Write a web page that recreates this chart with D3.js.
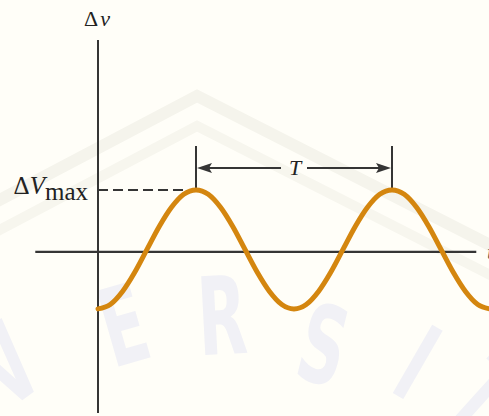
<!DOCTYPE html>
<html>
<head>
<meta charset="utf-8">
<script src="https://cdn.jsdelivr.net/npm/d3@7"></script>
<style>
  html, body { margin: 0; padding: 0; background: #fffef8; }
  svg { display: block; }
</style>
</head>
<body>
<svg id="chart" width="489" height="416"></svg>
<script>
// Time samples in units of the period T, and the voltage at each sample
// in units of ΔVmax (sixteenth-period readings of the oscillation).
const timeSamples = [0, 0.0625, 0.125, 0.1875, 0.25, 0.3125, 0.375, 0.4375, 0.5,
                     0.5625, 0.625, 0.6875, 0.75, 0.8125, 0.875, 0.9375, 1,
                     1.0625, 1.125, 1.1875, 1.25, 1.3125, 1.375, 1.4375, 1.5,
                     1.5625, 1.625, 1.6875, 1.75, 1.8125, 1.875, 1.9375, 2];
const voltageSamples = [-0.92, -0.85, -0.64, -0.33, 0.04, 0.41, 0.72, 0.93, 1.0,
                        0.93, 0.72, 0.41, 0.04, -0.33, -0.64, -0.85, -0.92,
                        -0.85, -0.64, -0.33, 0.04, 0.41, 0.72, 0.93, 1.0,
                        0.93, 0.72, 0.41, 0.04, -0.33, -0.64, -0.85, -0.92];

// Axis extents (time in T, voltage in ΔVmax)
const timeAxisExtent = [-0.32, 1.93];
const voltageAxisExtent = [-2.6, 3.42];

// Period bracket: two peaks one period apart
const periodPeaks = [0.5, 1.5];
const peakValue = 1.0;
const bracketTop = 1.71;
const bracketLevel = 1.355;

const labels = { yAxis: "Δ", yAxisVar: "v", maxDelta: "Δ", maxVar: "V", maxSub: "max", period: "T", xAxis: "t" };

// Background watermark letters with their placement
const watermarkLetters = ["V", "E", "R", "S", "I", "T"];
const watermarkPos = [[28, 396, -36], [134, 362, -16], [224, 354, -3], [314, 382, 14], [398, 396, 30], [460, 420, 42]];

const svg = d3.select("#chart");

const x = d3.scaleLinear().domain([0, 2]).range([98, 490]);
const y = d3.scaleLinear().domain(voltageAxisExtent).range([413, 40]);

const ink = "#353535";
const wave = "#d4860f";
const serif = "'Liberation Serif', 'DejaVu Serif', serif";

// Faint background watermark
const wm = svg.append("g").attr("class", "watermark");
wm.append("polyline")
  .attr("points", [[-10, 205], [197, 96], [500, 250]].join(" "))
  .attr("fill", "none").attr("stroke", "#f5f4ec").attr("stroke-width", 12);
wm.append("polyline")
  .attr("points", [[-10, 235], [197, 126], [500, 280]].join(" "))
  .attr("fill", "none").attr("stroke", "#f7f6ee").attr("stroke-width", 10);
wm.selectAll("text")
  .data(watermarkLetters)
  .join("text")
  .attr("transform", (d, i) => `translate(${watermarkPos[i][0]},${watermarkPos[i][1]}) rotate(${watermarkPos[i][2]}) scale(0.8,1.35)`)
  .attr("text-anchor", "middle")
  .style("font-family", "'DejaVu Sans', sans-serif")
  .style("font-weight", "bold")
  .style("font-size", "80px")
  .attr("fill", "#f1f1f6")
  .text(d => d);

// Axes
svg.append("line")
  .attr("x1", x(timeAxisExtent[0])).attr("x2", x(timeAxisExtent[1]))
  .attr("y1", y(0)).attr("y2", y(0))
  .attr("stroke", ink).attr("stroke-width", 2.2);
svg.append("line")
  .attr("x1", x(0)).attr("x2", x(0))
  .attr("y1", y(voltageAxisExtent[0])).attr("y2", y(voltageAxisExtent[1]))
  .attr("stroke", ink).attr("stroke-width", 2);

// Dashed guide at ΔVmax
svg.append("line")
  .attr("x1", x(0)).attr("x2", x(periodPeaks[0]) - 8)
  .attr("y1", y(peakValue)).attr("y2", y(peakValue))
  .attr("stroke", ink).attr("stroke-width", 2)
  .attr("stroke-dasharray", "10,5");

// Period bracket ticks
svg.selectAll("line.tick")
  .data(periodPeaks)
  .join("line")
  .attr("class", "tick")
  .attr("x1", d => x(d)).attr("x2", d => x(d))
  .attr("y1", y(bracketTop)).attr("y2", y(peakValue))
  .attr("stroke", ink).attr("stroke-width", 2);

// Arrow shafts with a gap for the T label
const midT = (periodPeaks[0] + periodPeaks[1]) / 2;
const gap = 13;
svg.append("line")
  .attr("x1", x(periodPeaks[0]) + 8).attr("x2", x(midT) - gap)
  .attr("y1", y(bracketLevel)).attr("y2", y(bracketLevel))
  .attr("stroke", ink).attr("stroke-width", 2);
svg.append("line")
  .attr("x1", x(midT) + gap).attr("x2", x(periodPeaks[1]) - 8)
  .attr("y1", y(bracketLevel)).attr("y2", y(bracketLevel))
  .attr("stroke", ink).attr("stroke-width", 2);

// Arrowheads
const ay = y(bracketLevel);
const lx = x(periodPeaks[0]) + 1, rx = x(periodPeaks[1]) - 1;
svg.append("path")
  .attr("d", `M ${lx} ${ay} L ${lx + 15} ${ay - 5} L ${lx + 12} ${ay} L ${lx + 15} ${ay + 5} Z`)
  .attr("fill", ink);
svg.append("path")
  .attr("d", `M ${rx} ${ay} L ${rx - 15} ${ay - 5} L ${rx - 12} ${ay} L ${rx - 15} ${ay + 5} Z`)
  .attr("fill", ink);

// Oscillating voltage curve
const line = d3.line()
  .x((d, i) => x(timeSamples[i]))
  .y(d => y(d))
  .curve(d3.curveCatmullRom.alpha(0));
svg.append("path")
  .datum(voltageSamples)
  .attr("d", line)
  .attr("fill", "none")
  .attr("stroke", wave)
  .attr("stroke-width", 5)
  .attr("stroke-linecap", "round");

// Labels
const yl = svg.append("text")
  .attr("x", x(0) - 1).attr("y", 26)
  .attr("text-anchor", "middle")
  .attr("font-family", serif).attr("font-size", 22).attr("fill", "#222");
yl.append("tspan").attr("font-family", serif).text(labels.yAxis);
yl.append("tspan").attr("font-family", serif).attr("font-style", "italic").attr("dx", 2).text(labels.yAxisVar);

const ml = svg.append("text")
  .attr("x", 88).attr("y", y(peakValue) + 4)
  .attr("text-anchor", "end")
  .attr("font-family", serif).attr("fill", "#222");
ml.append("tspan").attr("font-family", serif).attr("font-size", 25).text(labels.maxDelta);
ml.append("tspan").attr("font-family", serif).attr("font-size", 25).attr("font-style", "italic").text(labels.maxVar);
ml.append("tspan").attr("font-family", serif).attr("font-size", 25).attr("dy", 6).text(labels.maxSub);

svg.append("text")
  .attr("x", x(midT) + 1).attr("y", y(bracketLevel) + 7)
  .attr("text-anchor", "middle")
  .attr("font-family", serif).attr("font-size", 22).attr("font-style", "italic")
  .attr("fill", "#222")
  .text(labels.period);

svg.append("text")
  .attr("x", 487).attr("y", y(0) + 7)
  .attr("font-family", serif).attr("font-size", 22).attr("font-style", "italic")
  .attr("fill", "#555")
  .text(labels.xAxis);
</script>
</body>
</html>
